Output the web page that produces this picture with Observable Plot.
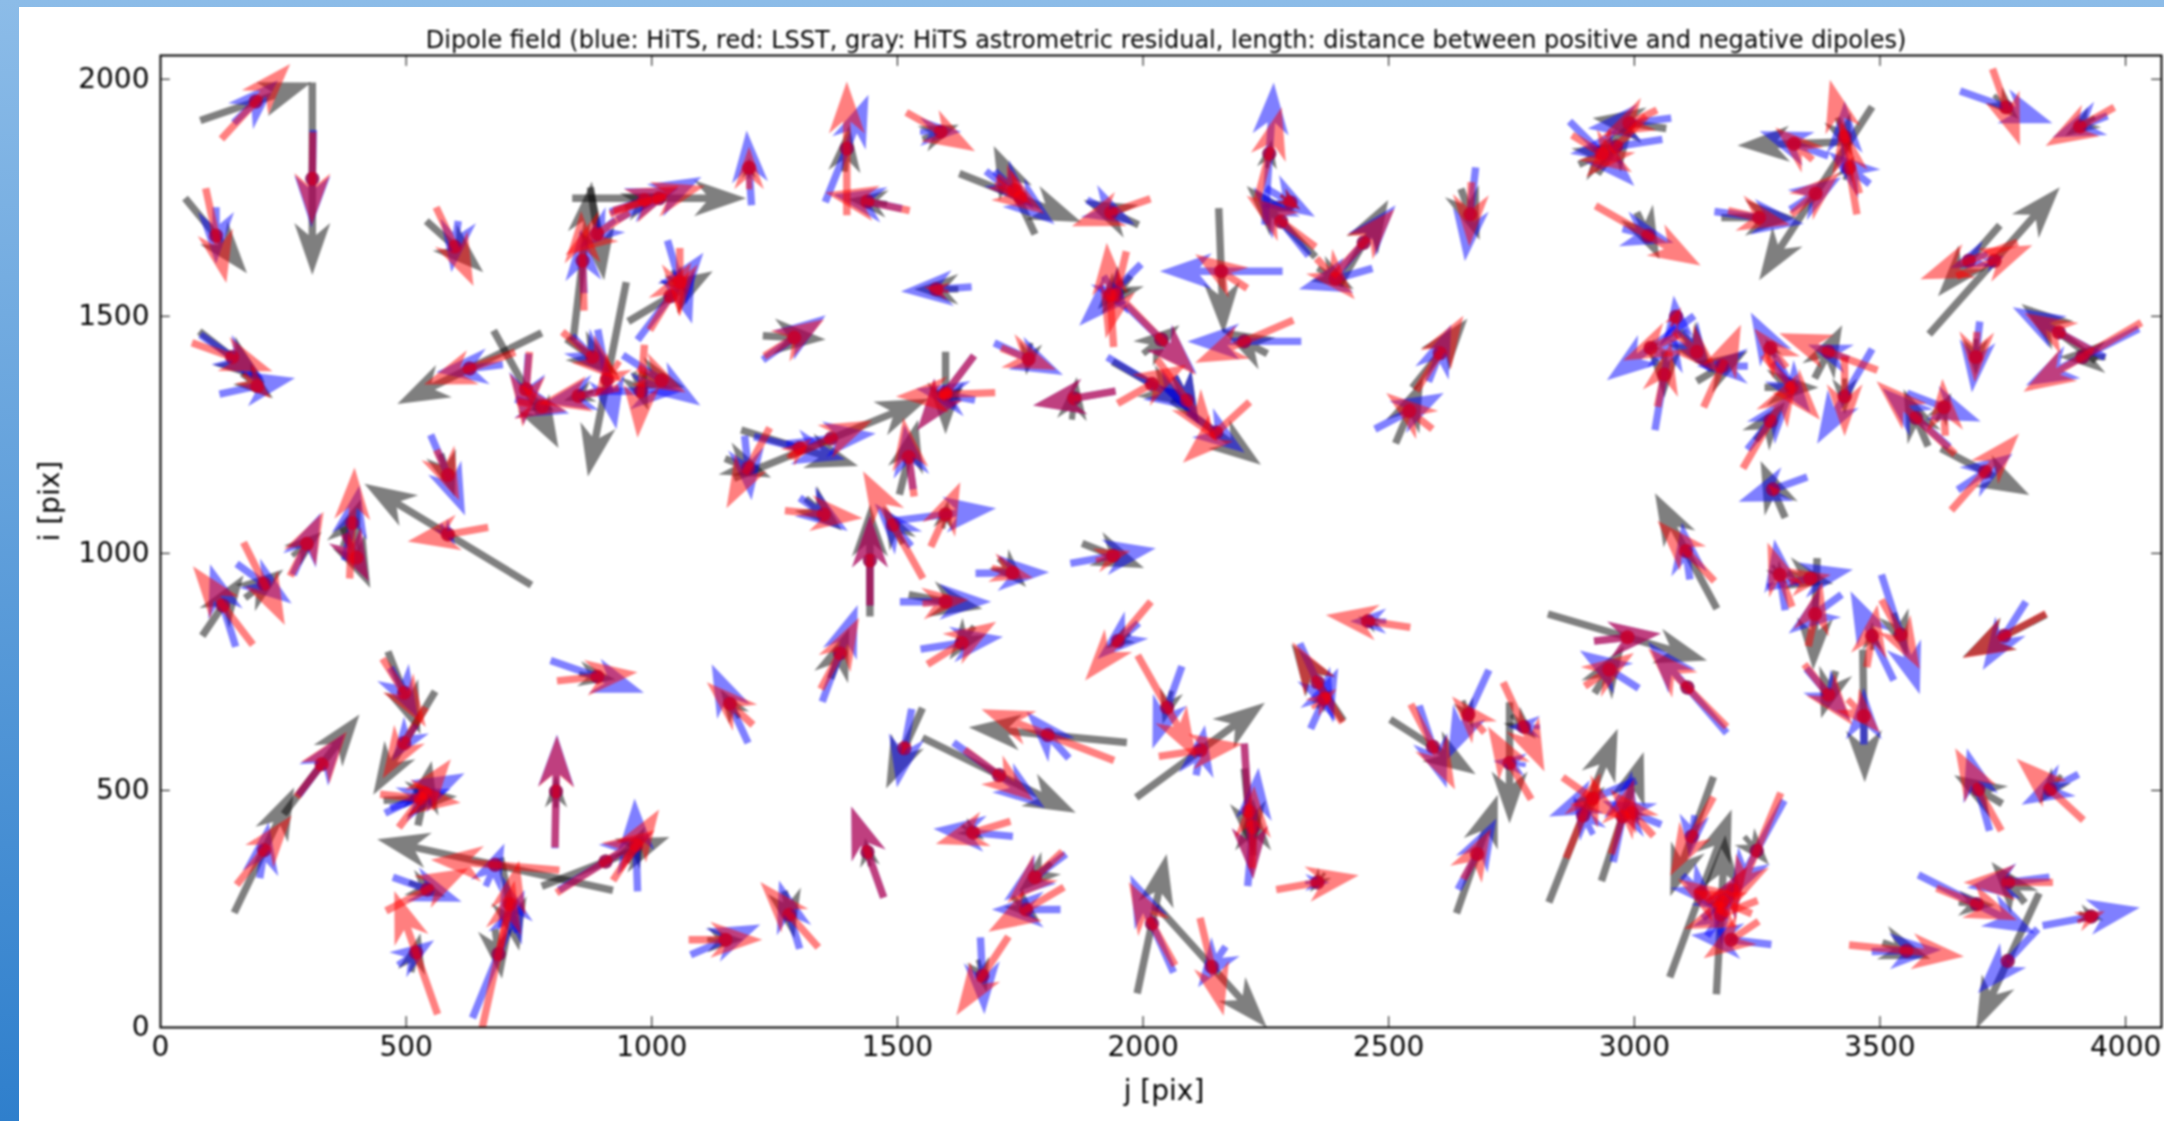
<!DOCTYPE html>
<html><head><meta charset="utf-8">
<script src="https://cdn.jsdelivr.net/npm/d3@7"></script>
<script src="https://cdn.jsdelivr.net/npm/@observablehq/plot@0.6"></script>
<style>
html,body{margin:0;padding:0;width:2164px;height:1121px;overflow:hidden;background:linear-gradient(180deg,#8cbce8 0%,#2f7fcc 100%);}
#sheet{position:absolute;left:19px;top:7px;right:0;bottom:0;background:#fff;}
#chart{position:absolute;left:0;top:0;filter:blur(0.8px);}
</style></head><body><div id="sheet"></div><div id="chart"></div>
<script>
const titleText = "Dipole field (blue: HiTS, red: LSST, gray: HiTS astrometric residual, length: distance between positive and negative dipoles)";
const xLabel = "j [pix]", yLabel = "i [pix]";
const xTicks = [0,500,1000,1500,2000,2500,3000,3500,4000];
const yTicks = [0,500,1000,1500,2000];
// each row: j, i, then half-vector (dj, di) of HiTS, LSST, residual
const dipolesNorthWest = [
[194,1953,45,45,70,79,113,40],[309,1790,-2,-103,-1,-98,0,-203],[113,1670,0,-60,21,-100,63,-79],[599,1647,-7,-54,38,-83,58,-54],
[146,1414,65,-47,82,-30,67,-54],[197,1353,77,17,28,-26,32,-26],[1015,1749,86,45,93,26,177,0],[985,1745,70,25,70,30,40,15],[889,1674,-37,-30,-65,-45,14,-98],
[859,1617,-3,68,-3,105,19,167],[1057,1572,25,-88,0,-72,15,-25],[1038,1542,67,92,42,71,86,53],[629,1390,-68,-8,-93,-34,-147,-75],
[744,1346,-5,-75,-7,-79,66,-124],[851,1332,-70,-15,-82,-17,-30,-10],[777,1310,55,-15,50,-10,25,-8],[879,1414,42,-45,61,-53,53,-38],
[909,1367,19,-105,-25,-38,-39,-205],[978,1342,84,0,-7,-98,15,-40],[1020,1365,79,-53,49,-26,47,-15],[585,1165,35,-85,23,-53,14,-45],
[585,1040,15,-22,-82,-15,-170,107],[390,1064,15,79,5,117,18,50],[399,991,25,-50,25,-50,28,-64],[298,1020,28,65,34,68,30,25]];
const dipolesSouthWest = [
[127,890,-26,87,-61,83,42,64],[211,936,56,-42,42,-87,39,30],[496,706,28,-53,44,-72,33,-87],[496,600,-25,-38,-44,-75,-63,-109],
[538,494,81,42,53,72,14,68],[529,483,61,20,82,-9,75,4],[328,555,47,65,51,69,77,105],[211,374,9,59,56,73,61,132],
[805,498,2,120,2,118,0,34],[889,740,95,-34,82,9,37,-6],[681,343,19,45,-131,11,-240,54],[688,155,53,135,33,155,7,-52],
[711,260,-15,60,19,92,19,-98],[543,291,70,-26,84,45,37,-15],[520,158,37,26,-44,130,9,41],[906,350,95,60,100,66,130,52],
[968,385,-3,98,47,75,18,38],[1150,185,71,32,75,0,37,0],[1280,238,-21,72,-59,69,10,-50],[1350,1082,49,-35,79,-8,37,-34]];
const dipolesNorthCentre = [
[1198,1813,-5,79,0,45,0,22],[1397,1854,44,113,0,141,5,49],[1439,1742,-70,15,-86,19,-40,5],[1588,1889,42,0,70,-41,37,15],
[1750,1750,70,-56,49,-34,124,-51],[1738,1766,40,-40,35,-30,-42,93],[1935,1719,49,-26,-80,-29,-56,26],[2159,1595,-125,0,-53,36,5,-133],
[2257,1843,9,150,25,98,5,30],[2281,1700,-56,72,-70,54,-70,75],[2300,1740,50,-30,20,-15,20,-15],[2392,1579,-75,-22,39,-43,37,-22],
[2449,1655,65,79,63,71,50,90],[1933,1545,-63,-65,-7,110,-25,-30],[1945,1545,25,-40,-21,-92,-30,-40],[1579,1557,-72,-5,-25,5,-45,0],
[1290,1455,64,47,61,39,64,-4],[1767,1410,70,-34,56,-23,-5,-34],[1598,1338,-58,-79,-58,-79,0,-87],[1598,1335,-60,12,-101,-4,-30,10],
[1365,1242,91,11,84,38,198,84],[1301,1222,93,-24,25,20,119,-38],[1196,1180,7,-68,-44,-85,47,-20],[1523,1203,-9,68,-11,83,19,79],
[1860,1327,-84,-15,-84,-15,5,45],[2018,1357,91,-57,70,41,80,-47],[2149,1255,58,-43,-68,-64,91,-68],[2089,1323,25,-50,61,-87,25,-50],
[2037,1451,72,-72,70,-75,37,30],[2206,1447,-116,0,-100,-45,-47,26]];
const dipolesSouthCentre = [
[1491,1060,-37,45,-61,113,-20,40],[1598,1082,103,13,30,68,5,30],[1444,985,0,95,0,95,0,118],[1939,995,87,16,35,10,63,-26],
[1598,898,93,0,47,4,75,-15],[1631,811,84,13,70,45,-25,-35],[1383,789,36,102,39,75,19,53],[1734,959,75,1,42,-11,28,-30],
[1159,683,-37,83,-47,45,-19,30],[1514,589,-15,-83,-5,-15,-37,-85],[1806,617,-43,49,-135,54,-161,16],[1707,532,93,-69,70,-54,156,-79],
[1654,411,-81,8,-76,-24,23,-15],[1439,370,-33,96,-33,96,-5,30],[1780,317,-63,-49,-56,-54,-33,-30],[1762,249,-70,0,-77,-47,28,-26],
[1673,109,4,-81,-53,-83,9,-34],[1949,815,-42,-38,-67,-83,-25,-15],[2049,675,-30,-87,60,-110,-9,-35],[2117,585,9,53,85,13,131,100],
[2215,456,9,-143,9,-143,9,-90],[2224,423,11,125,2,87,0,60],[2355,306,25,0,84,15,-15,-20],[2018,219,-44,103,-47,88,30,147],
[2140,128,-28,-43,24,-103,112,-128],[2355,728,36,-82,-51,85,-53,81],[2369,694,28,64,25,20,15,20],[2458,857,-37,0,-86,13,-20,10]];
const dipolesNorthEast = [
[2990,1907,-85,-11,-56,-28,-75,11],[2963,1858,-94,-15,-61,-64,38,58],[2934,1843,66,-68,61,-39,47,23],[3028,1670,52,-15,107,-63,23,-49],
[3325,1864,-70,26,-38,34,-115,-4],[3428,1879,0,75,-30,120,15,-40],[3369,1759,52,34,49,45,-115,-183],[3254,1708,91,-13,63,-15,77,0],
[3437,1813,-42,34,-16,98,10,25],[3757,1941,94,-34,28,-81,25,-25],[3907,1900,-56,-23,-70,-41,-30,-20],[3681,1617,-38,-15,-99,-39,-63,-75],
[3733,1617,20,10,77,33,133,155],[2666,1715,-11,-99,-2,-68,19,-54],[3695,1414,-8,-75,-2,-53,0,-38],[3864,1466,-94,53,-70,41,-76,60],
[3912,1414,-115,-60,-120,-73,-47,0],[3282,1135,-70,-26,-10,10,-25,60],[3033,1433,-89,-68,-56,-26,-15,-10],[3061,1377,19,117,14,68,0,-49],
[3085,1499,-5,45,10,20,5,15],[3127,1425,28,-45,47,-45,35,-45],[3179,1395,-52,0,38,87,52,32],[3277,1433,-40,75,-33,41,-10,20],
[3320,1350,38,-53,58,-68,55,0],[3277,1279,47,60,56,100,30,41],[3395,1425,-42,15,-100,39,28,56],[3428,1331,-56,-100,0,-84,0,-38],
[3630,1308,75,-30,-3,60,15,30],[3573,1286,-68,62,-80,77,-25,60],[3714,1172,56,38,69,81,90,-49],[2604,1422,23,60,48,79,56,73]];
const dipolesSouthEast = [
[2590,592,28,-87,45,-90,87,-58],[2542,1300,70,38,-47,38,28,68],[2662,660,-42,-94,-33,38,10,-30],[2775,634,-33,0,42,-94,25,-25],
[2746,558,-33,4,-44,77,0,-128],[2680,366,39,75,28,53,42,125],[2896,447,-20,40,35,90,70,183],[2915,483,-89,-38,61,-45,25,25],
[2976,445,19,96,23,79,43,136],[2995,453,-60,25,-44,49,-15,15],[2986,823,68,8,68,8,162,-49],[2949,755,-60,40,50,35,30,50],
[3108,717,-80,96,-80,83,10,-10],[3117,403,-5,-45,-44,-83,-44,-126],[3249,373,-56,-106,-49,-122,25,-30],[3135,283,37,-38,-47,30,63,177],
[3176,238,28,45,-75,-30,9,168],[3197,185,-82,10,-56,-39,-10,-10],[3179,265,40,35,-60,25,20,20],[3200,290,30,50,30,50,10,20],
[3105,1005,-8,60,-58,64,-63,122],[3368,872,-54,-41,14,68,-4,-118],[3296,955,-11,75,-25,68,15,-20],[3358,947,87,19,42,8,47,-11],
[3542,829,39,-126,39,-73,14,-45],[3484,826,-44,94,11,66,0,30],[3395,702,45,-55,49,-64,-15,-50],[3467,657,0,60,33,-35,2,-140],
[3753,826,-44,-72,-85,-47,-85,-45],[3700,502,-23,87,-47,87,-49,30],[3846,502,-58,-32,-68,65,-23,-30],[3761,306,-84,-11,-91,0,-34,43],
[3697,260,119,-62,82,-34,37,-2],[3930,234,99,19,28,11,25,-8],[3760,140,-61,-68,-3,3,-64,-143],[3554,162,71,2,117,-12,49,-17]];

const allRows = [...dipolesNorthWest,...dipolesSouthWest,...dipolesNorthCentre,...dipolesSouthCentre,...dipolesNorthEast,...dipolesSouthEast];

const W=2164,H=1121,mL=160,mR=3,mT=55,mB=94,xMax=4073,yMax=2050;
const kx=(W-mL-mR)/xMax, ky=(H-mT-mB)/yMax;
const hw=3.7,hl=52,al=40,bw=18;
const quiver={draw(c,l){const s=Math.min(1,l/hl),w=hw*s,h=hl*s,a=al*s,b=bw*s;
  c.moveTo(-w,0);c.lineTo(-w,-(l-a));c.lineTo(-b,-(l-h));c.lineTo(0,-l);c.lineTo(b,-(l-h));c.lineTo(w,-(l-a));c.lineTo(w,0);c.closePath();}};
const layer=(o,color,alpha)=>[
  Plot.vector(allRows,{x:d=>d[0],y:d=>d[1],
  length:{value:d=>2*Math.hypot(d[o]*kx,d[o+1]*ky),scale:null},
  rotate:d=>Math.atan2(d[o]*kx,d[o+1]*ky)*180/Math.PI,
  anchor:"middle",shape:quiver,fill:color,fillOpacity:alpha,stroke:"none",clip:"frame"}),
  Plot.dot(allRows,{x:d=>d[0],y:d=>d[1],r:7,fill:color,fillOpacity:alpha,stroke:"none"})];

const chart=Plot.plot({width:W,height:H,marginLeft:mL,marginRight:mR,marginTop:mT,marginBottom:mB,
  style:{background:"transparent",fontFamily:"'DejaVu Sans'",color:"#000"},
  x:{domain:[0,xMax]},y:{domain:[0,yMax]},
  marks:[
    layer(6,"#000",0.5),layer(2,"#0000ff",0.5),layer(4,"#ff0000",0.5),
    Plot.frame({stroke:"#000",strokeWidth:2}),
    Plot.ruleX(xTicks,{x:d=>d,y1:0,y2:23,stroke:"#000"}),
    Plot.ruleX(xTicks,{x:d=>d,y1:yMax-23,y2:yMax,stroke:"#000"}),
    Plot.ruleY(yTicks,{y:d=>d,x1:0,x2:20,stroke:"#000"}),
    Plot.ruleY(yTicks,{y:d=>d,x1:xMax-20,x2:xMax,stroke:"#000"}),
    Plot.axisX({ticks:xTicks,tickSize:0,tickPadding:9,fontSize:28,label:null,tickFormat:String}),
    Plot.axisY({ticks:yTicks,tickSize:0,tickPadding:11,fontSize:28,label:null,tickFormat:String}),
    Plot.text([titleText],{frameAnchor:"top",dx:5,dy:-25,fontSize:24,fill:"#000"}),
    Plot.text([xLabel],{frameAnchor:"bottom",dx:3,dy:72,fontSize:28,fill:"#000"}),
    Plot.text([yLabel],{frameAnchor:"left",dx:-110,dy:0,rotate:-90,fontSize:28,fill:"#000"})
  ]});
document.getElementById("chart").appendChild(chart);
</script></body></html>
